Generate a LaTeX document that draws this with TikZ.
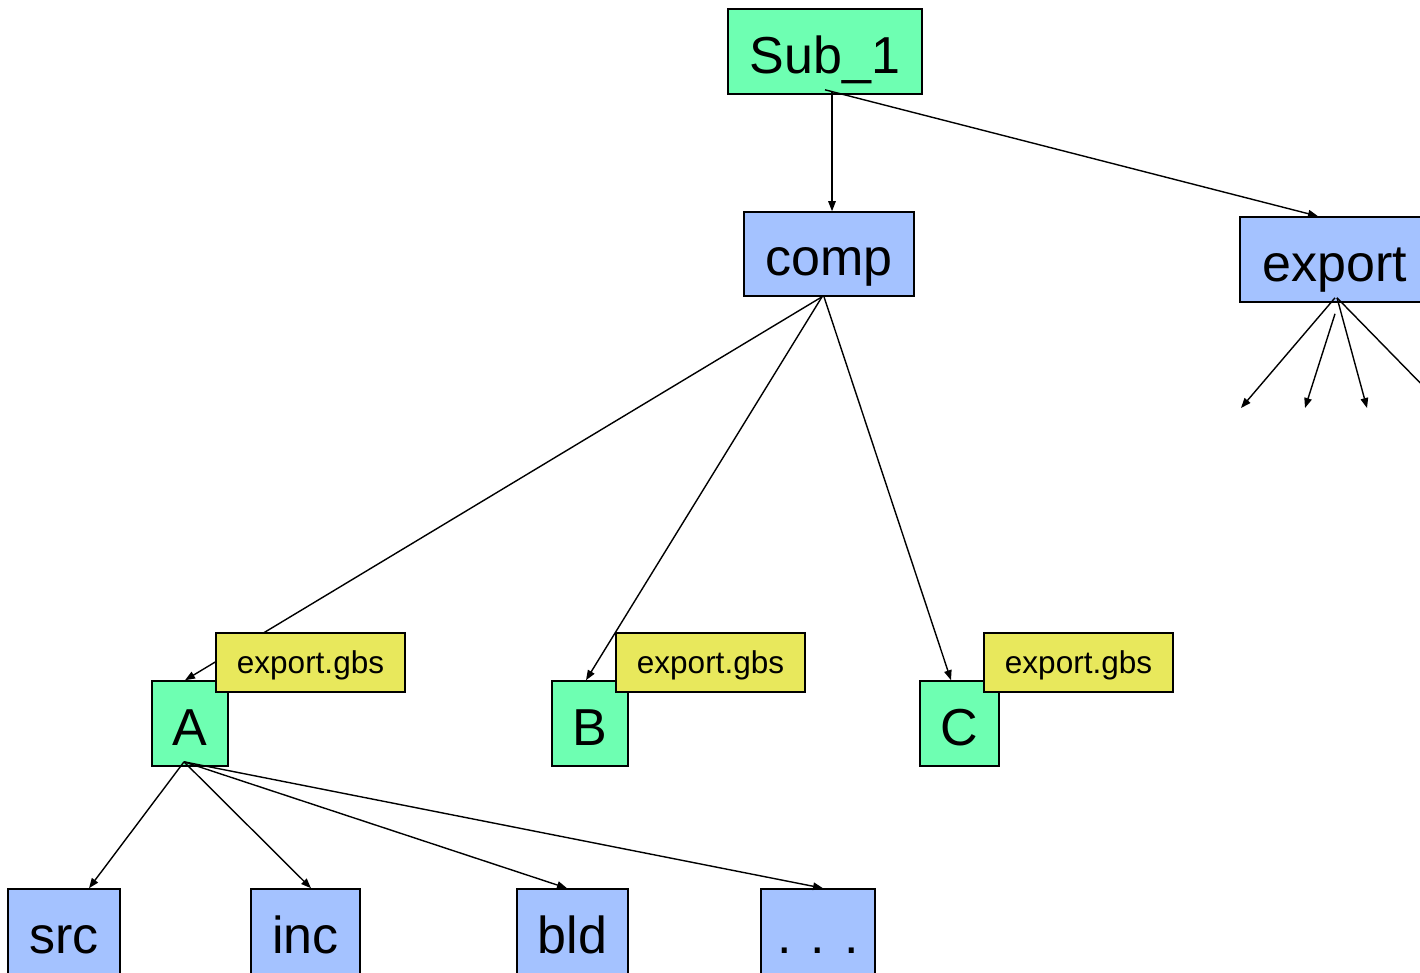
\documentclass[tikz,border=0pt]{standalone}
\usepackage{fontspec}
\setmainfont{Liberation Sans}
\usetikzlibrary{arrows.meta}
\definecolor{boxgreen}{RGB}{110,255,178}
\definecolor{boxblue}{RGB}{164,194,255}
\definecolor{boxyellow}{RGB}{232,232,92}
\tikzset{
  big/.style={draw=black, line width=1.6pt, inner sep=0pt, text height=43pt, text depth=0pt, font=\fontsize{52}{60}\selectfont, text=black},
  gbox/.style={big, fill=boxgreen},
  bbox/.style={big, fill=boxblue},
  ybox/.style={draw=black, line width=1.6pt, inner sep=0pt, text height=21pt, text depth=0pt, fill=boxyellow, minimum width=189pt, minimum height=59pt, font=\fontsize{31.5}{36}\selectfont},
  arr/.style={line width=1.4pt, -{Triangle[length=10pt,width=7.5pt]}}
}
\begin{document}
\begin{tikzpicture}[x=1pt,y=-1pt]
\useasboundingbox (0,0) rectangle (1420,972);
\clip (0,0) rectangle (1420,972);
\fill[white] (0,0) rectangle (1420,972);
% nodes
\node[gbox, minimum width=194pt, minimum height=85pt] (sub) at (825,51.5) {Sub\_1};
\node[bbox, minimum width=170pt, minimum height=84pt] (comp) at (829,254) {comp};
\node[bbox, minimum width=190pt, minimum height=85pt] (export) at (1335,259.5) {export};
\node[gbox, minimum width=76pt, minimum height=85pt] (A) at (190,723.5) {A};
\node[gbox, minimum width=76pt, minimum height=85pt] (B) at (590,723.5) {B};
\node[gbox, minimum width=79pt, minimum height=85pt] (C) at (959.5,723.5) {C};
\node[bbox, minimum width=112pt, minimum height=85pt] (src) at (64,931.5) {src};
\node[bbox, minimum width=109pt, minimum height=85pt] (inc) at (305.5,931.5) {inc};
\node[bbox, minimum width=111pt, minimum height=85pt] (bld) at (572.5,931.5) {bld};
\node[bbox, minimum width=114pt, minimum height=85pt] (dots) at (818,931.5) {. . .};
% free ends of export's connectors
\coordinate (e1) at (1241,408);
\coordinate (e2) at (1305,408);
\coordinate (e3) at (1367,408);
\coordinate (e4) at (1430,393);
% connectors
\draw[arr] ([xshift=7pt,yshift=4pt]sub.south) -- ([xshift=3pt]comp.north);
\draw[arr] ([yshift=5pt]sub.south) -- ([xshift=-17pt]export.north);
\draw[arr] ([xshift=-7pt]comp.south) -- ([xshift=-5pt]A.north);
\draw[arr] ([xshift=-7pt]comp.south) -- ([xshift=-4pt]B.north);
\draw[arr] ([xshift=-5pt]comp.south) -- ([xshift=-8.5pt]C.north);
\draw[arr] ([yshift=5pt]export.south) -- (e1);
\draw[arr] ([yshift=-11pt]export.south) -- (e2);
\draw[arr] ([xshift=2pt,yshift=5pt]export.south) -- (e3);
\draw[arr] ([xshift=2pt,yshift=5pt]export.south) -- (e4);
\draw[arr] ([xshift=-6pt,yshift=5pt]A.south) -- ([xshift=25pt]src.north);
\draw[arr] ([xshift=-6pt,yshift=5pt]A.south) -- ([xshift=5.5pt]inc.north);
\draw[arr] ([xshift=-6pt,yshift=5pt]A.south) -- ([xshift=-5.5pt]bld.north);
\draw[arr] ([xshift=-6pt,yshift=5pt]A.south) -- ([xshift=5pt]dots.north);
% labels on top
\node[ybox] (gA) at (310.5,662.5) {export.gbs};
\node[ybox] (gB) at (710.5,662.5) {export.gbs};
\node[ybox] (gC) at (1078.5,662.5) {export.gbs};
\end{tikzpicture}
\end{document}
